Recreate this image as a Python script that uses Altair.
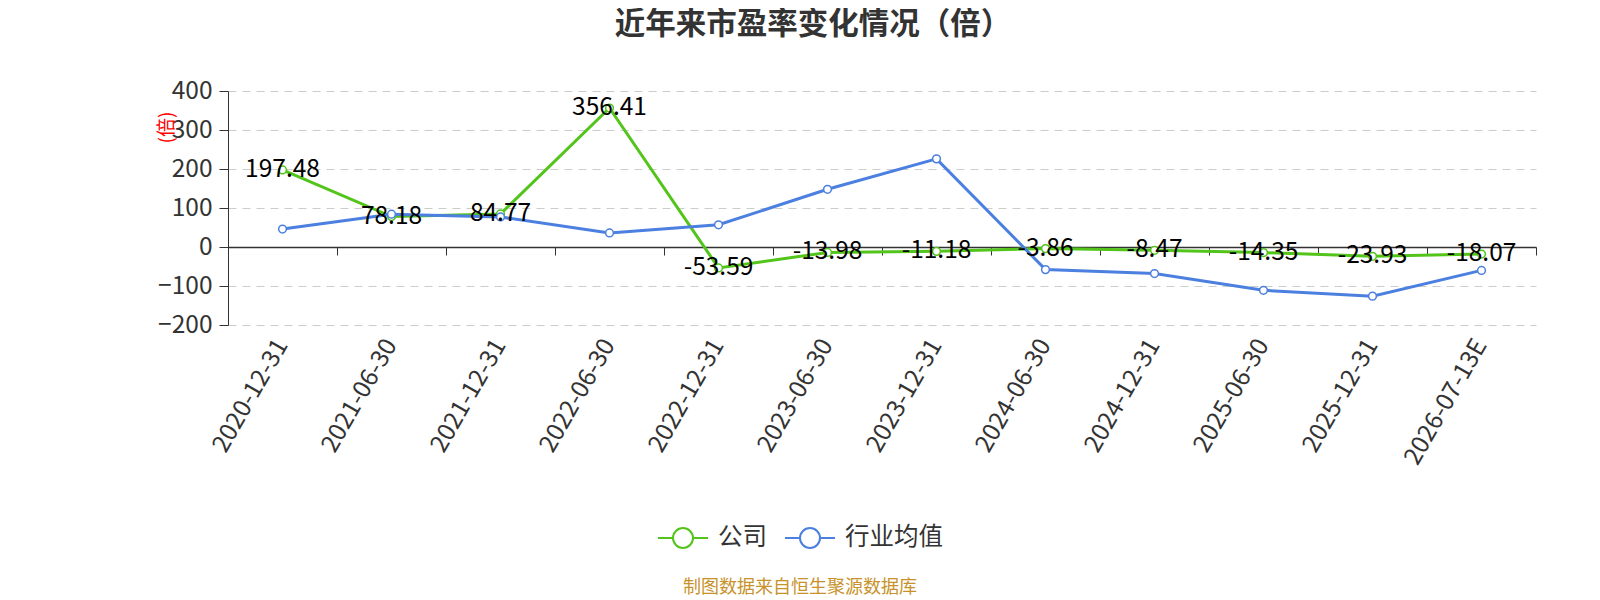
import altair as alt
import pandas as pd

dates = ["2020-12-31", "2021-06-30", "2021-12-31", "2022-06-30", "2022-12-31", "2023-06-30",
         "2023-12-31", "2024-06-30", "2024-12-31", "2025-06-30", "2025-12-31", "2026-07-13E"]
company = [197.48, 78.18, 84.77, 356.41, -53.59, -13.98, -11.18, -3.86, -8.47, -14.35, -23.93, -18.07]
company_labels = ["197.48", "78.18", "84.77", "356.41", "-53.59", "-13.98", "-11.18", "-3.86",
                  "-8.47", "-14.35", "-23.93", "-18.07"]
industry = [46, 84, 77, 36, 57, 148, 226, -58, -68, -111, -126, -60]
series_names = ["公司", "行业均值"]
colors = ["#52c41a", "#4b7fe0"]
y_ticks = [-200, -100, 0, 100, 200, 300, 400]
footer = ["制图数据来自恒生聚源数据库"]

FONT = "Noto Sans CJK SC"
W = 1308
H = 234

rows = []
for d, v in zip(dates, company):
    rows.append({"date": d, "series": series_names[0], "value": v})
for d, v in zip(dates, industry):
    rows.append({"date": d, "series": series_names[1], "value": v})
df = pd.DataFrame(rows)
df_lab = pd.DataFrame({"date": dates, "value": company, "label": company_labels})
df_foot = pd.DataFrame({"t": footer})

xscale = alt.Scale(type="band", domain=dates, paddingInner=0, paddingOuter=0)
yscale = alt.Scale(domain=[-200, 400], nice=False, zero=False)

yaxis = alt.Axis(values=y_ticks, title="(倍)", titleColor="#ff0000", titleFontSize=19,
                 titleFontWeight="normal", titleFont=FONT, titleX=-52, titleY=36,
                 titleAngle=-90, labelFontSize=24.5, labelColor="#333333", labelFont=FONT,
                 domainColor="#333333", tickColor="#333333", tickSize=9,
                 grid=True, gridDash=[8, 6], gridColor="#cccccc", labelPadding=7)

legend_path = "M-1,0L-0.4,0M0.4,0A0.4,0.4 0 1 1 -0.4,0A0.4,0.4 0 1 1 0.4,0M0.4,0L1,0"

lines = alt.Chart(df).mark_line(
    strokeWidth=3,
    point=alt.OverlayMarkDef(filled=False, fill="white", size=60, strokeWidth=1.5),
).encode(
    x=alt.X("date:N", sort=dates, scale=xscale, title=None,
            axis=alt.Axis(orient="bottom", domain=False, ticks=False, labelAngle=-60,
                          labelFontSize=24.5, labelColor="#333333", labelFont=FONT,
                          labelPadding=16, grid=False)),
    y=alt.Y("value:Q", scale=yscale, axis=yaxis),
    color=alt.Color("series:N", scale=alt.Scale(domain=series_names, range=colors),
                    legend=alt.Legend(title=None, orient="none", legendX=429, legendY=421,
                                      direction="horizontal", symbolType=legend_path,
                                      symbolSize=2500, symbolStrokeWidth=2,
                                      labelFontSize=24.5, labelColor="#333333", labelFont=FONT,
                                      columnPadding=14, labelOffset=9)),
    order=alt.Order("series:N"),
)

labels = alt.Chart(df_lab).mark_text(fontSize=24.5, color="#000000", font=FONT, baseline="middle").encode(
    x=alt.X("date:N", sort=dates, scale=xscale, title=None,
            axis=alt.Axis(orient="bottom", domain=True, domainColor="#333333", domainWidth=1.5,
                          ticks=True, tickColor="#333333", tickSize=8, tickBand="extent",
                          labels=False, offset=-H / 3, grid=False)),
    y=alt.Y("value:Q", scale=yscale, axis=yaxis),
    text="label:N",
)

foot = alt.Chart(df_foot).mark_text(fontSize=18, color="#c8922a", font=FONT).encode(
    x=alt.value(572), y=alt.value(497), text="t:N"
)

chart = alt.layer(lines, labels, foot).resolve_axis(x="independent").properties(
    width=W, height=H,
    autosize=alt.AutoSizeParams(type="none"),
    padding={"left": 220, "top": 83, "right": 25, "bottom": 273},
    title=alt.TitleParams("近年来市盈率变化情况（倍）", fontSize=30.5, font=FONT, fontWeight="bold",
                          color="#333333", dx=-69, offset=38, anchor="middle", frame="group"),
).configure_view(stroke=None)

chart.save("out.html", embed_options={"renderer": "svg", "actions": False})
